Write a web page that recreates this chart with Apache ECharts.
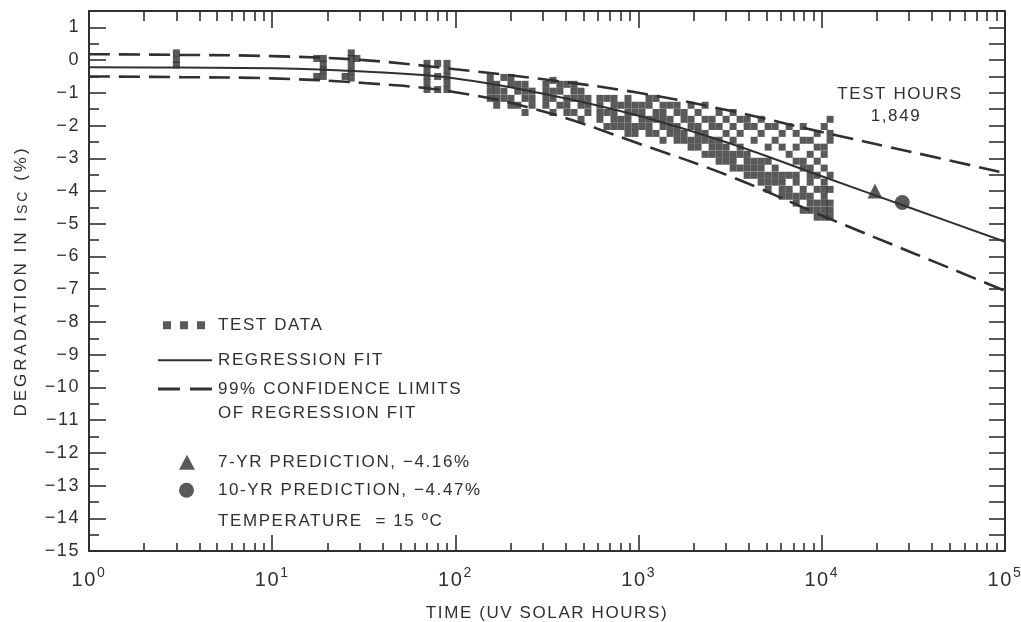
<!DOCTYPE html>
<html><head><meta charset="utf-8">
<script src="https://cdn.jsdelivr.net/npm/echarts@6/dist/echarts.min.js"></script>
<style>html,body{margin:0;padding:0;background:#fff}#c{width:1021px;height:622px}</style>
</head><body><div id="c"></div>
<script>
// ---- data ----
const fitTimes      = [1, 3.162, 10, 31.62, 100, 316.2, 1000, 3162, 10000, 31623, 100000];
const regressionFit = [-0.22, -0.23, -0.25, -0.35, -0.56, -1.05, -1.70, -2.55, -3.55, -4.55, -5.55];
const upperLimit    = [0.18, 0.16, 0.12, 0.00, -0.28, -0.60, -1.00, -1.55, -2.20, -2.82, -3.45];
const lowerLimit    = [-0.50, -0.52, -0.56, -0.70, -0.98, -1.60, -2.55, -3.55, -4.75, -5.90, -7.05];

// test data: [time (h), [degradation values (%) read at that time]]
const testColumns = [
  [3, [0.22, 0.02, -0.15]],
  [17.5, [0.05, -0.5]],
  [19, [0.05, -0.12, -0.3, -0.5]],
  [25, [-0.5]],
  [27, [0.22, 0.05, -0.15, -0.35, -0.55]],
  [29, [0.05]],
  [70, [-0.1, -0.3, -0.5, -0.7, -0.9]],
  [80, [-0.1, -0.5, -0.9]],
  [90, [-0.1, -0.3, -0.5, -0.7, -0.9]],
  [155, [-0.53, -0.74, -0.95, -1.17]],
  [168, [-0.74, -0.95, -1.17, -1.38]],
  [184, [-0.53, -0.95, -1.17]],
  [201, [-0.53, -0.74, -1.17, -1.38]],
  [219, [-0.74, -0.95, -1.38]],
  [240, [-0.74, -0.95, -1.17, -1.60]],
  [262, [-0.95, -1.17, -1.38]],
  [312, [-0.74, -0.95, -1.17, -1.38]],
  [341, [-0.62, -0.95, -1.17, -1.60]],
  [372, [-0.74, -0.95, -1.38]],
  [406, [-0.74, -1.17, -1.38, -1.60]],
  [444, [-0.74, -0.95, -1.17, -1.60]],
  [485, [-0.95, -1.17, -1.38, -1.81]],
  [529, [-1.17, -1.38, -1.60]],
  [615, [-1.17, -1.38, -1.60, -1.81]],
  [672, [-1.17, -1.60, -2.03]],
  [734, [-1.17, -1.38, -1.60, -1.81, -2.03]],
  [801, [-1.38, -1.81, -2.03]],
  [875, [-1.17, -1.38, -1.60, -1.81, -2.03, -2.24]],
  [956, [-1.38, -1.60, -2.03, -2.24]],
  [1044, [-1.38, -1.60, -1.81, -2.03]],
  [1140, [-1.17, -1.38, -1.81, -2.03, -2.24]],
  [1245, [-1.17, -1.60, -1.81, -2.24]],
  [1360, [-1.38, -1.60, -1.81, -2.03, -2.45]],
  [1485, [-1.38, -1.81, -2.03, -2.24]],
  [1622, [-1.38, -1.60, -2.03, -2.24, -2.45]],
  [1771, [-1.60, -1.81, -2.24, -2.45]],
  [1934, [-1.38, -1.81, -2.03, -2.45, -2.66]],
  [2112, [-1.60, -2.03, -2.24, -2.45, -2.66]],
  [2307, [-1.38, -1.81, -2.24, -2.45, -2.88]],
  [2519, [-1.81, -2.03, -2.45, -2.66, -2.88]],
  [2751, [-1.60, -2.03, -2.45, -2.66, -2.88, -3.09]],
  [3004, [-1.81, -2.24, -2.66, -2.88, -3.09]],
  [3281, [-1.60, -2.03, -2.45, -2.88, -3.09, -3.30]],
  [3583, [-1.81, -2.24, -2.66, -2.88, -3.30]],
  [3913, [-1.81, -2.03, -2.88, -3.09, -3.30, -3.52]],
  [4273, [-2.03, -2.45, -3.09, -3.30, -3.52]],
  [4666, [-1.81, -2.24, -3.09, -3.30, -3.52, -3.73]],
  [5096, [-2.03, -2.66, -3.09, -3.52, -3.73, -3.95]],
  [5565, [-2.03, -2.45, -3.30, -3.52, -3.73]],
  [6077, [-2.24, -2.66, -3.52, -3.73, -3.95, -4.16]],
  [6636, [-2.03, -2.88, -3.52, -3.95, -4.16]],
  [7247, [-2.24, -2.66, -3.09, -3.52, -3.73, -4.16, -4.37]],
  [7914, [-2.03, -2.45, -3.09, -3.30, -3.95, -4.16, -4.59]],
  [8643, [-2.45, -2.88, -3.30, -3.52, -3.73, -4.16, -4.37, -4.59]],
  [9438, [-2.24, -2.66, -3.09, -3.52, -3.95, -4.37, -4.59, -4.80]],
  [10307, [-2.03, -2.66, -2.88, -3.30, -3.73, -3.95, -4.16, -4.37, -4.59, -4.80]],
  [11100, [-1.81, -2.24, -2.45, -3.52, -3.95, -4.37, -4.59, -4.80]]
];
const pred7yr  = [[19500, -4.00]];
const pred10yr = [[27500, -4.35]];
const xMajorTicks = [1, 10, 100, 1000, 10000, 100000];
const yMajorTicks = [-15,-14,-13,-12,-11,-10,-9,-8,-7,-6,-5,-4,-3,-2,-1,0,1];

// ---- names / texts ----
const NAME_DATA = 'TEST DATA';
const NAME_FIT = 'REGRESSION FIT';
const NAME_CL = '99% CONFIDENCE LIMITS\nOF REGRESSION FIT';
const NAME_P7 = '7-YR PREDICTION, \u22124.16%';
const NAME_P10 = '10-YR PREDICTION, \u22124.47%';
const NOTE_TEMP = 'TEMPERATURE  = 15 \u00baC';
const NOTE_HOURS = 'TEST HOURS';
const NOTE_HOURS_VAL = '1,849';

const INK = '#303030';
const FONT = '"Liberation Sans", Arial, sans-serif';
const WIDE_FONT = '"Liberation Sans", Arial';   // same face, looser tracking (y-axis title)

// wide tracking like the original typesetting
(function () {
  const P = CanvasRenderingContext2D.prototype;
  const ft = P.fillText, mt = P.measureText;
  const sp = ctx => (ctx.font.indexOf('sans-serif') < 0 && ctx.font.indexOf('Liberation') >= 0) ? '3px' : '1.6px';
  P.fillText = function () { this.letterSpacing = sp(this); return ft.apply(this, arguments); };
  P.measureText = function () { this.letterSpacing = sp(this); return mt.apply(this, arguments); };
})();

const testData = [];
testColumns.forEach(c => c[1].forEach(v => testData.push([c[0], v])));

const xMinorTicks = [];
for (let d = 1; d < 100000; d *= 10) for (let k = 2; k <= 9; k++) xMinorTicks.push(d * k);
const yMinorTicks = [];
for (let v = -14.5; v < 1; v += 1) yMinorTicks.push(v);
const yAllHalf = [];
for (let v = -14.5; v <= 1; v += 0.5) yAllHalf.push(v);

const pair = (xs, ys) => xs.map((x, i) => [x, ys[i]]);

function xAx(pos, ticks, len, extra) {
  return Object.assign({
    type: 'log', logBase: 10, min: 1, max: 100000, position: pos,
    axisLine: { show: false, onZero: false },
    axisTick: { show: true, inside: true, length: len, customValues: ticks, lineStyle: { color: INK, width: 1.6 } },
    axisLabel: { show: false },
    splitLine: { show: false }, minorTick: { show: false }, minorSplitLine: { show: false }
  }, extra || {});
}
function yAx(pos, ticks, len, extra) {
  return Object.assign({
    type: 'value', min: -15, max: 1.5, position: pos,
    axisLine: { show: false, onZero: false },
    axisTick: { show: true, inside: true, length: len, customValues: ticks, lineStyle: { color: INK, width: 1.6 } },
    axisLabel: { show: false },
    splitLine: { show: false }
  }, extra || {});
}
const axisLineOn = { show: true, onZero: false, lineStyle: { color: INK, width: 2 } };

const chart = echarts.init(document.getElementById('c'), null, { renderer: 'canvas' });
const legendText = { color: INK, fontSize: 17, fontFamily: FONT };

chart.setOption({
  animation: false,
  backgroundColor: '#fff',
  grid: { left: 89, right: 16, top: 11, bottom: 71, containLabel: false, outerBoundsMode: 'none' },
  xAxis: [
    xAx('bottom', xMajorTicks, 16, {
      axisLine: axisLineOn,
      axisLabel: {
        show: true, customValues: xMajorTicks, margin: 14,
        formatter: v => '{b|10}{s|' + Math.round(Math.log10(v)) + '}',
        rich: {
          b: { fontSize: 20, fontFamily: FONT, color: INK, lineHeight: 26, verticalAlign: 'bottom' },
          s: { fontSize: 14, fontFamily: FONT, color: INK, lineHeight: 14, verticalAlign: 'top' }
        }
      },
      name: 'TIME (UV SOLAR HOURS)', nameLocation: 'middle', nameGap: 53,
      nameTextStyle: { fontSize: 17, fontFamily: FONT, color: INK }
    }),
    xAx('bottom', xMinorTicks, 8),
    xAx('top', xMajorTicks, 17, { axisLine: axisLineOn }),
    xAx('top', xMinorTicks, 10)
  ],
  yAxis: [
    yAx('left', yMajorTicks, 17, {
      axisLine: axisLineOn,
      axisLabel: {
        show: true, customValues: yMajorTicks, margin: 9,
        color: INK, fontSize: 18, fontFamily: FONT,
        formatter: v => v < 0 ? '\u2212' + Math.abs(v) : String(v)
      },
      name: '{a|DEGRADATION IN I}{s|SC}{a| (%)}', nameLocation: 'middle', nameGap: 57, nameRotate: 90,
      nameTextStyle: {
        rich: {
          a: { fontSize: 17, fontFamily: WIDE_FONT, color: INK, lineHeight: 22 },
          s: { fontSize: 14, fontFamily: WIDE_FONT, color: INK, lineHeight: 14, verticalAlign: 'bottom' }
        }
      }
    }),
    yAx('left', yMinorTicks, 10),
    yAx('right', yAllHalf, 16, { axisLine: axisLineOn })
  ],
  legend: [
    { data: [NAME_DATA], left: 158, top: 311, selectedMode: false, itemWidth: 42, itemHeight: 8,
      icon: 'path://M0,0h8v8h-8z M17,0h8v8h-8z M34,0h8v8h-8z', textStyle: Object.assign({ padding: [0,0,0,8] }, legendText) },
    { data: [NAME_FIT], left: 153, top: 346, selectedMode: false, itemWidth: 54, itemHeight: 2,
      icon: 'path://M0,0h54v2h-54z', textStyle: Object.assign({ padding: [0,0,0,1] }, legendText) },
    { data: [NAME_CL], left: 153, top: 372, selectedMode: false, itemWidth: 54, itemHeight: 27,
      icon: 'path://M0,0h22v3h-22z M32,0h22v3h-22z M0,26.9h0.1v0.1h-0.1z',
      textStyle: Object.assign({ padding: [0,0,0,1], lineHeight: 24 }, legendText) },
    { data: [NAME_P7], left: 174, top: 448, selectedMode: false, itemWidth: 16, itemHeight: 15, icon: 'triangle',
      textStyle: Object.assign({ padding: [0,0,0,18] }, legendText) },
    { data: [NAME_P10], left: 174, top: 476, selectedMode: false, itemWidth: 15, itemHeight: 15, icon: 'circle',
      textStyle: Object.assign({ padding: [0,0,0,19] }, legendText) }
  ],
  graphic: [
    { type: 'text', x: 218, y: 521, style: { text: NOTE_TEMP, fill: INK, font: '17px ' + FONT, verticalAlign: 'middle' } },
    { type: 'text', x: 900, y: 94, style: { text: NOTE_HOURS, fill: INK, font: '17px ' + FONT, align: 'center', verticalAlign: 'middle' } },
    { type: 'text', x: 896, y: 116, style: { text: NOTE_HOURS_VAL, fill: INK, font: '17px ' + FONT, align: 'center', verticalAlign: 'middle' } }
  ],
  series: [
    { name: NAME_DATA, type: 'scatter', data: testData, symbol: 'rect', symbolSize: 7,
      itemStyle: { color: INK }, z: 2 },
    { name: NAME_FIT, type: 'line', data: pair(fitTimes, regressionFit), smooth: 0.4, symbol: 'none',
      lineStyle: { color: INK, width: 2 }, itemStyle: { color: INK }, z: 3 },
    { name: NAME_CL, type: 'line', data: pair(fitTimes, upperLimit), smooth: 0.4, symbol: 'none',
      lineStyle: { color: INK, width: 2.6, type: [21, 9] }, itemStyle: { color: INK }, z: 3 },
    { name: NAME_CL, type: 'line', data: pair(fitTimes, lowerLimit), smooth: 0.4, symbol: 'none',
      lineStyle: { color: INK, width: 2.6, type: [21, 9] }, itemStyle: { color: INK }, z: 3 },
    { name: NAME_P7, type: 'scatter', data: pred7yr, symbol: 'triangle', symbolSize: 15,
      itemStyle: { color: INK }, z: 4 },
    { name: NAME_P10, type: 'scatter', data: pred10yr, symbol: 'circle', symbolSize: 15,
      itemStyle: { color: INK }, z: 4 }
  ]
});
</script></body></html>
